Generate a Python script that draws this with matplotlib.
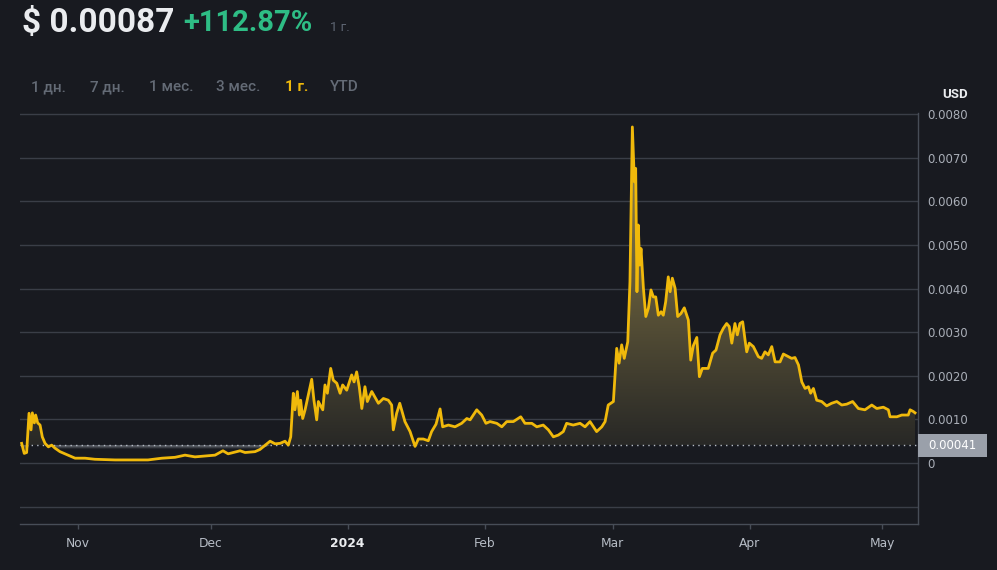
import numpy as np
import pandas as pd
import matplotlib
matplotlib.use("Agg")
import matplotlib.pyplot as plt
import matplotlib.dates as mdates
from matplotlib.path import Path
from matplotlib.patches import PathPatch, Rectangle
import matplotlib.transforms as mtransforms

# ---------------- data ----------------
dates = [
    "2023-10-19 06:00", "2023-10-19 20:00", "2023-10-20 09:00", "2023-10-20 22:00", "2023-10-21 09:00",
    "2023-10-21 16:00", "2023-10-22 03:00", "2023-10-22 10:00", "2023-10-22 21:00", "2023-10-23 10:00",
    "2023-10-23 22:00", "2023-10-24 13:00", "2023-10-25 07:00", "2023-10-26 01:00", "2023-10-26 19:00",
    "2023-10-27 22:00", "2023-10-29 01:00", "2023-10-30 05:00", "2023-10-31 08:00", "2023-11-02 14:00",
    "2023-11-04 20:00", "2023-11-09 09:00", "2023-11-13 22:00", "2023-11-16 20:00", "2023-11-20 00:00",
    "2023-11-22 23:00", "2023-11-25 05:00", "2023-11-27 11:00", "2023-11-29 18:00", "2023-12-02 00:00",
    "2023-12-03 19:00", "2023-12-04 23:00", "2023-12-07 16:00", "2023-12-08 19:00", "2023-12-11 01:00",
    "2023-12-12 04:00", "2023-12-14 11:00", "2023-12-15 14:00", "2023-12-16 17:00", "2023-12-17 20:00",
    "2023-12-18 14:00", "2023-12-19 03:00", "2023-12-19 17:00", "2023-12-20 02:00", "2023-12-20 15:00",
    "2023-12-21 02:00", "2023-12-21 09:00", "2023-12-21 20:00", "2023-12-22 09:00", "2023-12-23 21:00",
    "2023-12-24 09:00", "2023-12-25 00:00", "2023-12-25 09:00", "2023-12-26 09:00", "2023-12-26 21:00",
    "2023-12-27 10:00", "2023-12-28 04:00", "2023-12-28 18:00", "2023-12-29 13:00", "2023-12-30 07:00",
    "2023-12-30 21:00", "2023-12-31 19:00", "2024-01-01 22:00", "2024-01-02 11:00", "2024-01-03 01:00",
    "2024-01-03 15:00", "2024-01-04 05:00", "2024-01-04 22:00", "2024-01-05 11:00", "2024-01-06 11:00",
    "2024-01-07 23:00", "2024-01-09 02:00", "2024-01-10 05:00", "2024-01-10 23:00", "2024-01-11 08:00",
    "2024-01-12 02:00", "2024-01-12 19:00", "2024-01-13 23:00", "2024-01-15 03:00", "2024-01-16 06:00",
    "2024-01-17 00:00", "2024-01-18 03:00", "2024-01-19 06:00", "2024-01-20 00:00", "2024-01-21 00:00",
    "2024-01-21 22:00", "2024-01-22 12:00", "2024-01-23 19:00", "2024-01-25 07:00", "2024-01-26 19:00",
    "2024-01-27 23:00", "2024-01-28 17:00", "2024-01-30 05:00", "2024-01-31 08:00", "2024-02-01 07:00",
    "2024-02-02 05:00", "2024-02-03 18:00", "2024-02-04 21:00", "2024-02-06 00:00", "2024-02-07 12:00",
    "2024-02-09 04:00", "2024-02-10 03:00", "2024-02-11 16:00", "2024-02-12 19:00", "2024-02-14 06:00",
    "2024-02-15 10:00", "2024-02-16 13:00", "2024-02-17 16:00", "2024-02-18 19:00", "2024-02-19 13:00",
    "2024-02-21 01:00", "2024-02-22 14:00", "2024-02-23 17:00", "2024-02-24 20:00", "2024-02-26 08:00",
    "2024-02-27 12:00", "2024-02-28 06:00", "2024-02-28 23:00", "2024-03-01 03:00", "2024-03-01 21:00",
    "2024-03-02 10:00", "2024-03-03 00:00", "2024-03-03 14:00", "2024-03-04 09:00", "2024-03-04 21:00",
    "2024-03-05 10:00", "2024-03-05 21:00", "2024-03-06 04:00", "2024-03-06 11:00", "2024-03-06 18:00",
    "2024-03-07 02:00", "2024-03-07 09:00", "2024-03-07 22:00", "2024-03-08 11:00", "2024-03-09 01:00",
    "2024-03-09 15:00", "2024-03-10 04:00", "2024-03-10 17:00", "2024-03-11 07:00", "2024-03-11 22:00",
    "2024-03-12 10:00", "2024-03-12 23:00", "2024-03-13 13:00", "2024-03-13 23:00", "2024-03-14 11:00",
    "2024-03-15 02:00", "2024-03-15 16:00", "2024-03-16 10:00", "2024-03-17 04:00", "2024-03-18 02:00",
    "2024-03-18 15:00", "2024-03-19 05:00", "2024-03-20 00:00", "2024-03-20 14:00", "2024-03-21 06:00",
    "2024-03-22 14:00", "2024-03-23 14:00", "2024-03-24 08:00", "2024-03-25 06:00", "2024-03-26 00:00",
    "2024-03-26 18:00", "2024-03-27 08:00", "2024-03-27 22:00", "2024-03-28 15:00", "2024-03-29 04:00",
    "2024-03-29 18:00", "2024-03-30 09:00", "2024-03-30 22:00", "2024-03-31 07:00", "2024-03-31 21:00",
    "2024-04-01 19:00", "2024-04-02 22:00", "2024-04-03 16:00", "2024-04-04 10:00", "2024-04-05 04:00",
    "2024-04-05 23:00", "2024-04-06 17:00", "2024-04-07 20:00", "2024-04-08 14:00", "2024-04-09 17:00",
    "2024-04-10 11:00", "2024-04-11 05:00", "2024-04-12 00:00", "2024-04-12 18:00", "2024-04-13 12:00",
    "2024-04-14 06:00", "2024-04-14 18:00", "2024-04-15 09:00", "2024-04-16 03:00", "2024-04-17 06:00",
    "2024-04-18 09:00", "2024-04-19 12:00", "2024-04-20 16:00", "2024-04-21 19:00", "2024-04-22 22:00",
    "2024-04-24 06:00", "2024-04-25 13:00", "2024-04-27 01:00", "2024-04-28 14:00", "2024-04-29 17:00",
    "2024-05-01 05:00", "2024-05-02 08:00", "2024-05-02 17:00", "2024-05-04 06:00", "2024-05-05 09:00",
    "2024-05-06 20:00", "2024-05-07 06:00", "2024-05-08 00:00", "2024-05-08 09:00",
]
prices = [
    0.00045, 0.00022, 0.00024, 0.00114, 0.00076,
    0.00115, 0.00092, 0.00110, 0.00092, 0.00087,
    0.00060, 0.00045, 0.00037, 0.00041, 0.00034,
    0.00026, 0.00021, 0.00016, 0.00011, 0.00011,
    0.000085, 0.00007, 0.00007, 0.00007, 0.00011,
    0.00013, 0.00018, 0.00014, 0.00016, 0.00018,
    0.00028, 0.00021, 0.00028, 0.00024, 0.00026,
    0.00031, 0.00050, 0.00044, 0.00045, 0.00050,
    0.00041, 0.00060, 0.00160, 0.00122, 0.00164,
    0.00110, 0.00144, 0.00102, 0.00122, 0.00192,
    0.00144, 0.00099, 0.00141, 0.00122, 0.00179,
    0.00160, 0.00217, 0.00190, 0.00183, 0.00160,
    0.00179, 0.00167, 0.00202, 0.00186, 0.00209,
    0.00175, 0.00125, 0.00175, 0.00141, 0.00164,
    0.00137, 0.00148, 0.00144, 0.00133, 0.00076,
    0.00114, 0.00137, 0.00095, 0.00072, 0.00038,
    0.00055, 0.00055, 0.00051, 0.00072, 0.00089,
    0.00124, 0.00083, 0.00087, 0.00083, 0.00091,
    0.00102, 0.00099, 0.00122, 0.00110, 0.00091,
    0.00095, 0.00091, 0.00083, 0.00095, 0.00095,
    0.00106, 0.00091, 0.00091, 0.00083, 0.00087,
    0.00076, 0.00060, 0.00064, 0.00072, 0.00091,
    0.00087, 0.00091, 0.00083, 0.00095, 0.00072,
    0.00083, 0.00095, 0.00133, 0.00141, 0.00263,
    0.00229, 0.00271, 0.00240, 0.00278, 0.00416,
    0.00771, 0.00645, 0.00676, 0.00393, 0.00546,
    0.00454, 0.00492, 0.00401, 0.00336, 0.00355,
    0.00397, 0.00381, 0.00381, 0.00339, 0.00347,
    0.00339, 0.00370, 0.00427, 0.00393, 0.00424,
    0.00401, 0.00336, 0.00343, 0.00356, 0.00328,
    0.00236, 0.00269, 0.00288, 0.00198, 0.00217,
    0.00217, 0.00252, 0.00259, 0.00294, 0.00309,
    0.00320, 0.00313, 0.00275, 0.00320, 0.00294,
    0.00320, 0.00324, 0.00282, 0.00255, 0.00275,
    0.00267, 0.00244, 0.00240, 0.00255, 0.00248,
    0.00267, 0.00232, 0.00232, 0.00250, 0.00244,
    0.00240, 0.00242, 0.00225, 0.00186, 0.00171,
    0.00175, 0.00160, 0.00171, 0.00144, 0.00141,
    0.00131, 0.00137, 0.00141, 0.00133, 0.00135,
    0.00141, 0.00125, 0.00122, 0.00133, 0.00125,
    0.00128, 0.00122, 0.00106, 0.00106, 0.00110,
    0.00110, 0.00122, 0.00118, 0.00115,
]
baseline_price = 0.00041
y_ticks = [-0.001, 0.0, 0.001, 0.002, 0.003, 0.004, 0.005, 0.006, 0.007, 0.008]
month_ticks = ["2023-11-01", "2023-12-01", "2024-01-01", "2024-02-01", "2024-03-01", "2024-04-01", "2024-05-01"]
month_labels = ["Nov", "Dec", "2024", "Feb", "Mar", "Apr", "May"]
x_range = ["2023-10-18 21:00", "2024-05-09 01:00"]
y_range = [-0.0014, 0.00803]

header_price = "$ 0.00087"
header_change = "+112.87%"
header_period = "1 г."
periods = ["1 дн.", "7 дн.", "1 мес.", "3 мес.", "1 г.", "YTD"]
active_period = "1 г."

# ---------------- style ----------------
BG = "#181A20"
GRID = "#3A3E47"
SPINE = "#474D57"
YELLOW = "#F0B90B"
TICK_TXT = "#A9AEB7"

fig = plt.figure(figsize=(9.97, 5.7), dpi=100, facecolor=BG)
W, H = 997, 570
ax = fig.add_axes([20 / W, 46 / H, 898 / W, 411 / H])
ax.set_facecolor(BG)

xn = mdates.date2num(pd.to_datetime(dates))
v = np.array(prices)
x0, x1 = mdates.date2num(pd.to_datetime(x_range))


def closed_path(xs, ys, base):
    pts = [(xs[0], base)] + list(zip(xs, ys)) + [(xs[-1], base), (xs[0], base)]
    codes = [Path.MOVETO] + [Path.LINETO] * (len(pts) - 2) + [Path.CLOSEPOLY]
    return Path(pts, codes)


# grid
for yt in y_ticks:
    ax.axhline(yt, color=GRID, lw=1.0, zorder=0)

# gradient fill above baseline
top_y = max(prices)
n = 256
t = np.linspace(0, 1, n)[:, None]
c_bot = np.array([40, 40, 38]) / 255
c_top = np.array([155, 138, 78]) / 255
grad = np.ones((n, 1, 4))
grad[:, 0, :3] = c_bot + (c_top - c_bot) * t
im = ax.imshow(grad, extent=[xn[0], xn[-1], baseline_price, top_y], origin="lower",
               aspect="auto", zorder=1, interpolation="bilinear")
patch = PathPatch(closed_path(xn, np.maximum(v, baseline_price), baseline_price),
                  facecolor="none", edgecolor="none", transform=ax.transData)
ax.add_patch(patch)
im.set_clip_path(patch)

# gray band just below the baseline
band_h = 0.00009
g2 = np.zeros((n, 1, 4))
g2[:, 0, :3] = np.array([96, 100, 108]) / 255
g2[:, 0, 3] = np.clip(t[:, 0] * 1.4, 0, 1) * 0.95
im2 = ax.imshow(g2, extent=[xn[0], xn[-1], baseline_price - band_h, baseline_price], origin="lower",
                aspect="auto", zorder=1, interpolation="bilinear")
patch2 = PathPatch(closed_path(xn, np.minimum(v, baseline_price), baseline_price),
                   facecolor="none", edgecolor="none", transform=ax.transData)
ax.add_patch(patch2)
im2.set_clip_path(patch2)

# baseline dotted
ax.axhline(baseline_price, color="#B7BDC6", lw=1.0, ls=(0, (1, 3)), zorder=3)

# price line
ax.plot(xn, v, color=YELLOW, lw=2.0, zorder=5, solid_joinstyle="round")

ax.set_xlim(x0, x1)
ax.set_ylim(*y_range)

# axes styling
for s in ["top", "left"]:
    ax.spines[s].set_visible(False)
for s in ["bottom", "right"]:
    ax.spines[s].set_color(SPINE)
    ax.spines[s].set_linewidth(1.0)

ax.yaxis.tick_right()
ax.set_yticks(y_ticks)
ax.set_yticklabels(["" if y < 0 else ("0" if y == 0 else f"{y:.4f}") for y in y_ticks])
ax.tick_params(axis="y", length=0, pad=7, labelsize=8.5, labelcolor=TICK_TXT)

ax.set_xticks(mdates.date2num(pd.to_datetime(month_ticks)))
ax.set_xticklabels(month_labels)
ax.tick_params(axis="x", length=3.5, width=1, color=SPINE, pad=6, labelsize=8.8, labelcolor="#B7BDC6")
for lbl in ax.get_xticklabels():
    if lbl.get_text() == "2024":
        lbl.set_color("#EAECEF")
        lbl.set_fontweight("bold")

# baseline value box on right axis
px_to_data = (y_range[1] - y_range[0]) / 411.0
box_h = 23 * px_to_data
trans = mtransforms.blended_transform_factory(ax.transAxes, ax.transData)
ax.add_patch(Rectangle((1.0, baseline_price - box_h / 2), 69 / 898, box_h, transform=trans,
                       facecolor="#9AA0AA", edgecolor="none", clip_on=False, zorder=6))
ax.text(1.0 + 10 / 898, baseline_price, f"{baseline_price:.5f}", transform=trans, color="white",
        fontsize=8.5, va="center", ha="left", zorder=7, clip_on=False)

# USD
fig.text(942 / W, 1 - 98 / H, "USD", color="#EAECEF", fontsize=9.5, fontweight="bold",
         family="Roboto", va="baseline", ha="left")

# header
fig.text(22 / W, 1 - 32 / H, header_price, color="#EAECEF", fontsize=24, fontweight="bold",
         family="Roboto", va="baseline", ha="left")
fig.text(183 / W, 1 - 31 / H, header_change, color="#2EBD85", fontsize=21, fontweight="bold",
         family="Roboto", va="baseline", ha="left")
fig.text(330 / W, 1 - 31 / H, header_period, color="#5E6673", fontsize=9.5,
         family="Roboto", va="baseline", ha="left")

period_x = [31, 90, 149, 216, 285, 330]
for px, lab in zip(period_x, periods):
    active = lab == active_period
    fig.text(px / W, 1 - 91 / H, lab, color=YELLOW if active else "#646B76", fontsize=11,
             fontweight="bold" if active else "medium", family="Roboto", va="baseline", ha="left")

fig.savefig("out.png", dpi=100, facecolor=BG)
